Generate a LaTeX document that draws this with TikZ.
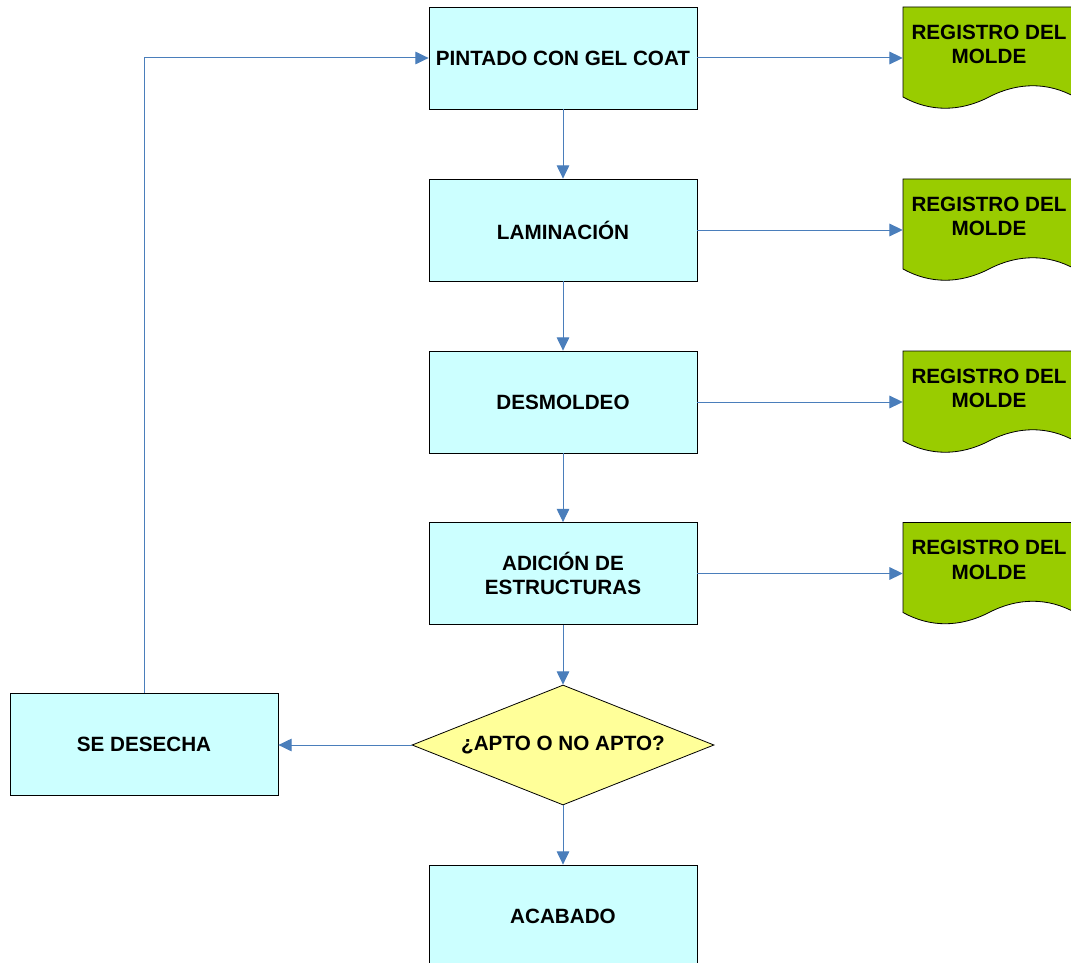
\documentclass[tikz,border=0pt]{standalone}
\usepackage{fontspec}
\setmainfont{Liberation Sans}
\usetikzlibrary{arrows.meta,shapes.geometric}
\definecolor{boxcyan}{RGB}{204,255,255}
\definecolor{decyellow}{RGB}{255,255,153}
\definecolor{docgreen}{RGB}{153,204,0}
\definecolor{flowblue}{RGB}{74,126,187}
\tikzset{
  paso/.style={draw=black,line width=0.6pt,fill=boxcyan,minimum width=201pt,
    minimum height=76.5pt,align=center,font=\fontsize{15.5pt}{18.5pt}\selectfont\bfseries},
  decision/.style={diamond,aspect=2.5,draw=black,line width=0.6pt,fill=decyellow,inner sep=0pt,
    minimum width=226.5pt,minimum height=90pt,font=\fontsize{15.5pt}{18.5pt}\selectfont\bfseries},
  doctexto/.style={minimum width=129pt,minimum height=40pt,inner sep=0pt,align=center,
    font=\fontsize{15.5pt}{18.5pt}\selectfont\bfseries},
  flujo/.style={draw=flowblue,line width=0.75pt,-{Triangle[length=10pt,width=9.5pt]}}
}
\begin{document}
\begin{tikzpicture}[x=0.75pt,y=-0.75pt]
  \useasboundingbox (0,0) rectangle (1071,963);
  \clip (0,0) rectangle (1071,963);
  % pasos del proceso
  \node[paso] (p1) at (563,58) {PINTADO CON GEL COAT};
  \node[paso] (p2) at (563,230) {LAMINACIÓN};
  \node[paso] (p3) at (563,402) {DESMOLDEO};
  \node[paso] (p4) at (563,573.5) {ADICIÓN DE\\ESTRUCTURAS};
  \node[decision] (q) at (563,745) {¿APTO O NO APTO?};
  \node[paso] (s) at (144,744.5) {SE DESECHA};
  \node[paso] (a) at (563,916) {ACABADO};
  % registros
  \foreach \y/\n in {58/1,230/2,402/3,573.5/4} {
    \filldraw[draw=black,line width=0.6pt,fill=docgreen]
      (903,\y-51) -- (1075,\y-51) -- (1075,\y+39)
      .. controls (1048,\y+24) and (1018,\y+24) .. (989,\y+39)
      .. controls (960,\y+54) and (930,\y+54) .. (903,\y+39) -- cycle;
    \node[doctexto] (r\n) at (989,\y-13.5) {REGISTRO DEL\\MOLDE};
    \draw[flujo] (p\n.east) -- (p\n.east -| r\n.west);
  }
  % flechas
  \draw[flujo] (p1) -- (p2);
  \draw[flujo] (p2) -- (p3);
  \draw[flujo] (p3) -- (p4);
  \draw[flujo] (p4) -- (q);
  \draw[flujo] (q) -- (a);
  \draw[flujo] (q.west) -- (s.east |- q.west);
  \draw[flujo] (s.north) |- (p1.west);
\end{tikzpicture}
\end{document}
